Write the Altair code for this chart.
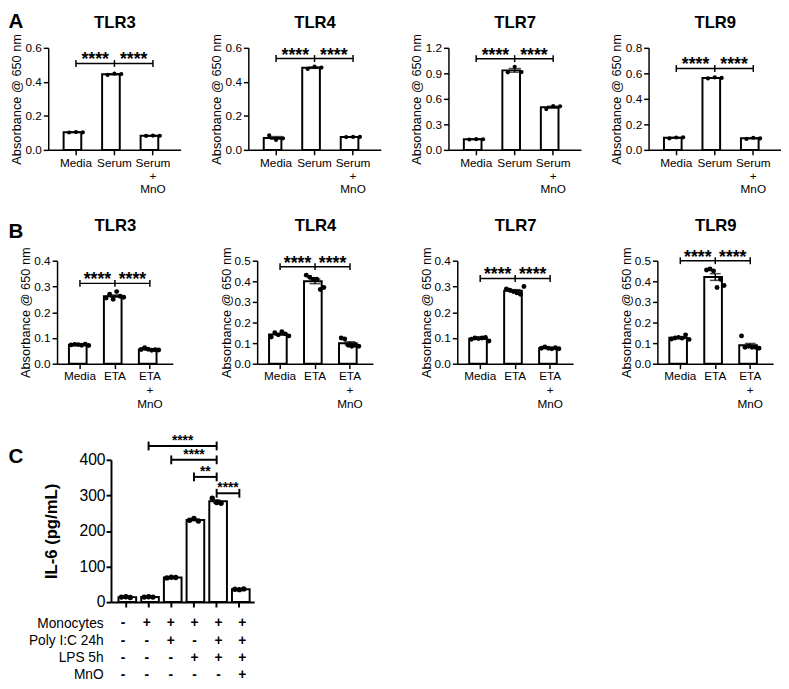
import altair as alt
import pandas as pd

FONT = "Liberation Sans"

# ---------------- Panel A (3 replicates per group) ----------------
A_GROUPS = ["Media", "Serum", "Serum|+|MnO"]
A_TITLES = ["TLR3", "TLR4", "TLR7", "TLR9"]
A_TLR3_MEDIA = [0.102, 0.105, 0.103]
A_TLR3_SERUM = [0.441, 0.448, 0.446]
A_TLR3_MNO = [0.082, 0.084, 0.083]
A_TLR4_MEDIA = [0.085, 0.058, 0.068]
A_TLR4_SERUM = [0.476, 0.490, 0.484]
A_TLR4_MNO = [0.075, 0.076, 0.076]
A_TLR7_MEDIA = [0.122, 0.126, 0.125]
A_TLR7_SERUM = [0.912, 0.978, 0.915]
A_TLR7_MNO = [0.480, 0.515, 0.512]
A_TLR9_MEDIA = [0.090, 0.097, 0.098]
A_TLR9_SERUM = [0.560, 0.568, 0.564]
A_TLR9_MNO = [0.086, 0.095, 0.090]
A_YMAX = [0.6, 0.6, 1.2, 0.8]
A_YSTEP = [0.2, 0.2, 0.3, 0.2]
A_BRACKET = [0.508, 0.537, 1.073, 0.638]

# ---------------- Panel B (6 replicates per group) ----------------
B_GROUPS = ["Media", "ETA", "ETA|+|MnO"]
B_TITLES = ["TLR3", "TLR4", "TLR7", "TLR9"]
B_TLR3_MEDIA = [0.073, 0.075, 0.074, 0.072, 0.076, 0.071]
B_TLR3_ETA = [0.255, 0.270, 0.250, 0.280, 0.262, 0.258]
B_TLR3_MNO = [0.055, 0.062, 0.056, 0.052, 0.054, 0.053]
B_TLR4_MEDIA = [0.130, 0.150, 0.140, 0.155, 0.145, 0.135]
B_TLR4_ETA = [0.430, 0.420, 0.410, 0.410, 0.360, 0.370]
B_TLR4_MNO = [0.125, 0.120, 0.090, 0.085, 0.090, 0.085]
B_TLR7_MEDIA = [0.095, 0.100, 0.098, 0.100, 0.102, 0.088]
B_TLR7_ETA = [0.290, 0.285, 0.280, 0.275, 0.270, 0.300]
B_TLR7_MNO = [0.060, 0.065, 0.060, 0.058, 0.062, 0.058]
B_TLR9_MEDIA = [0.120, 0.125, 0.128, 0.124, 0.140, 0.118]
B_TLR9_ETA = [0.455, 0.460, 0.450, 0.370, 0.410, 0.380]
B_TLR9_MNO = [0.135, 0.080, 0.085, 0.080, 0.080, 0.075]
B_YMAX = [0.4, 0.5, 0.4, 0.5]
B_YSTEP = [0.1, 0.1, 0.1, 0.1]
B_BRACKET = [0.312, 0.471, 0.331, 0.500]

STARS_AB = ["****", "****"]

# ---------------- Panel C ----------------
C_GROUPS = ["None", "Monocytes", "Mono + Poly I:C", "Mono + LPS",
            "Mono + Poly I:C + LPS", "Mono + Poly I:C + LPS + MnO"]
C_IL6 = [[14, 15, 13], [14, 15, 14], [68, 70, 69],
         [230, 235, 228], [292, 280, 278], [36, 35, 37]]
C_ROWS = ["Monocytes", "Poly I:C 24h", "LPS 5h", "MnO"]
C_MONOCYTES = ["-", "+", "+", "+", "+", "+"]
C_POLYIC = ["-", "-", "+", "-", "+", "+"]
C_LPS = ["-", "-", "-", "+", "+", "+"]
C_MNO = ["-", "-", "-", "-", "-", "+"]
C_BR_START = [1, 2, 3, 4]
C_BR_END = [4, 4, 4, 5]
C_BR_Y = [439, 400, 352, 306]
C_BR_LABEL = ["****", "****", "**", "****"]


def tick_values(ymax, step):
    k = int(round(ymax / step))
    return [round(i * step, 6) for i in range(k + 1)]


def panel(groups, reps, ymax, ystep, yfmt, ytitle, lines, ticks, labels, title, s,
          letter=None, sx=0):
    n = len(groups)
    df = pd.DataFrame([{"group": g, "rep": str(r), "value": v}
                       for g, vals in zip(groups, reps) for r, v in enumerate(vals)])
    pi, po, W = s["pi"], s["po"], s["W"]
    xs = alt.Scale(domain=groups, paddingInner=pi, paddingOuter=po, range=[sx, sx + W])
    ys = alt.Scale(domain=[0, ymax], nice=False, zero=True)
    yaxis = alt.Axis(values=tick_values(ymax, ystep), format=yfmt, title=ytitle, grid=False,
                     tickSize=5, labelPadding=s["lpad"], titlePadding=s["tpad"],
                     labelFontSize=s["lfs"], titleFontSize=s["tfs"], titleFontWeight=s["tfw"],
                     domainWidth=s["aw"], tickWidth=s["aw"], offset=-sx)
    xaxis_kw = dict(labelAngle=0, labelExpr="split(datum.label, '|')",
                    labels=s["xlabels"], labelFontSize=12, labelLineHeight=s["xlh"],
                    labelPadding=s["xlpad"], tickSize=5, domainWidth=s["aw"], tickWidth=s["aw"],
                    grid=False)
    if letter:
        xaxis = alt.Axis(title=letter, titleX=s["letter_x"], titleY=s["letter_y"],
                         titleAngle=0, titleAlign="left", titleBaseline="alphabetic",
                         titleFontSize=21, titleFontWeight="bold", **xaxis_kw)
    else:
        xaxis = alt.Axis(title=None, **xaxis_kw)
    X = alt.X("group:N", scale=xs, axis=xaxis, sort=groups)
    Xp = alt.X("group:N", scale=xs, axis=xaxis, sort=groups, bandPosition=0)
    bars = alt.Chart(df).mark_bar(fill="white", stroke="black", strokeWidth=s["bsw"]).encode(
        X, alt.Y("mean(value):Q", scale=ys, axis=yaxis))
    err = alt.Chart(df).mark_errorbar(extent="stderr", color="black", thickness=1.5,
                                      ticks={"size": s["bw"] * 0.5}).encode(
        X, alt.Y("value:Q", scale=ys, axis=yaxis))
    pts = alt.Chart(df).mark_circle(color="black", size=s["psize"], opacity=1).encode(
        Xp, alt.XOffset("rep:N", scale=alt.Scale(paddingOuter=s["xo_po"], paddingInner=1)),
        alt.Y("value:Q", scale=ys, axis=yaxis))
    data_layer = alt.layer(bars, err, pts)

    c0 = po + (1 - pi) / 2
    ax = alt.Scale(domain=[-c0, n - 1 + c0], nice=False, zero=False, range=[sx, sx + W])
    if title:
        top_axis = alt.Axis(orient="top", title=title, labels=False, ticks=False, domain=False,
                            grid=False, titleFontSize=17, titleFontWeight="bold",
                            titleBaseline="alphabetic", titlePadding=s["ttl_pad"],
                            minExtent=0, maxExtent=0)
    else:
        top_axis = None
    df_lines = pd.DataFrame({"x0": [l[0] for l in lines], "x1": [l[1] for l in lines],
                             "y": [l[2] for l in lines]})
    df_ticks = pd.DataFrame({"x": [t[0] for t in ticks], "y": [t[1] for t in ticks]})
    df_lab = pd.DataFrame({"x": [t[0] for t in labels], "y": [t[1] for t in labels],
                           "label": [t[2] for t in labels]})
    rule = alt.Chart(df_lines).mark_rule(color="black", strokeWidth=s["rsw"]).encode(
        alt.X("x0:Q", scale=ax, axis=top_axis), x2="x1:Q",
        y=alt.Y("y:Q", scale=ys, axis=yaxis))
    tks = alt.Chart(df_ticks).mark_point(shape="M0,-1V1", size=s["tk"], color="black",
                                         strokeWidth=s["rsw"], filled=False, opacity=1).encode(
        alt.X("x:Q", scale=ax, axis=top_axis), alt.Y("y:Q", scale=ys, axis=yaxis))
    stars = alt.Chart(df_lab).mark_text(font=FONT, fontSize=s["sfs"], fontWeight="bold",
                                        baseline="alphabetic", dy=s["sdy"], color="black").encode(
        alt.X("x:Q", scale=ax, axis=top_axis), alt.Y("y:Q", scale=ys, axis=yaxis),
        text="label:N")
    ann_layer = alt.layer(rule, tks, stars)
    return alt.layer(data_layer, ann_layer).resolve_scale(x="independent").properties(
        width=W + sx, height=s["H"])


SA = dict(W=135, H=104, pi=0.36, po=0.40, lpad=2, lfs=12, tfs=13, tfw="normal", aw=1.5,
          xlabels=True, xlh=13, xlpad=3, bsw=2, bw=25, psize=18, xo_po=0.79, ttl_pad=21,
          rsw=1.5, tk=49, sfs=18, sdy=2, tpad=2, letter_x=-41, letter_y=-125)
SB = dict(W=118, H=105, pi=0.37, po=0.34, lpad=2, lfs=12, tfs=13, tfw="normal", aw=1.5,
          xlabels=True, xlh=14.5, xlpad=2, bsw=2, bw=22, psize=25, xo_po=0.64, ttl_pad=31,
          rsw=1.5, tk=49, sfs=18, sdy=2, tpad=1, letter_x=-41, letter_y=-129)

A_REPS = [[A_TLR3_MEDIA, A_TLR3_SERUM, A_TLR3_MNO], [A_TLR4_MEDIA, A_TLR4_SERUM, A_TLR4_MNO],
          [A_TLR7_MEDIA, A_TLR7_SERUM, A_TLR7_MNO], [A_TLR9_MEDIA, A_TLR9_SERUM, A_TLR9_MNO]]
B_REPS = [[B_TLR3_MEDIA, B_TLR3_ETA, B_TLR3_MNO], [B_TLR4_MEDIA, B_TLR4_ETA, B_TLR4_MNO],
          [B_TLR7_MEDIA, B_TLR7_ETA, B_TLR7_MNO], [B_TLR9_MEDIA, B_TLR9_ETA, B_TLR9_MNO]]


def ab_row(groups, reps_all, ymaxs, ysteps, brackets, titles, s, letter, sx0):
    charts = []
    for i in range(4):
        yb = brackets[i]
        lines = [(0, 2, yb)]
        ticks = [(0, yb), (1, yb), (2, yb)]
        labels = [(0.5, yb, STARS_AB[0]), (1.5, yb, STARS_AB[1])]
        charts.append(panel(groups, reps_all[i], ymaxs[i], ysteps[i], ".1f",
                            "Absorbance @ 650 nm", lines, ticks, labels, titles[i], s,
                            letter=letter if i == 0 else None, sx=sx0 if i == 0 else 0))
    return charts


rowA = alt.hconcat(*ab_row(A_GROUPS, A_REPS, A_YMAX, A_YSTEP, A_BRACKET, A_TITLES, SA, "A", 0),
                   spacing=30).resolve_scale(xOffset="independent")
rowB = alt.hconcat(*ab_row(B_GROUPS, B_REPS, B_YMAX, B_YSTEP, B_BRACKET, B_TITLES, SB, "B", 9),
                   spacing=48).resolve_scale(xOffset="independent")

# Panel C main plot
C_SHIFT = 64
SC = dict(W=146, H=145, pi=0.35, po=0.33, lpad=1, lfs=16, tfs=17, tfw="bold", aw=2,
          xlabels=False, xlh=12, xlpad=2, bsw=2, bw=15, psize=30, xo_po=0.67, ttl_pad=0,
          rsw=2, tk=81, sfs=14, sdy=-1, tpad=19, letter_x=-41, letter_y=-142)
c_lines = [(a, b, y) for a, b, y in zip(C_BR_START, C_BR_END, C_BR_Y)]
c_ticks = [(a, y) for a, y in zip(C_BR_START, C_BR_Y)] + [(b, y) for b, y in zip(C_BR_END, C_BR_Y)]
c_labels = [((a + b) / 2, y, lab) for a, b, y, lab in zip(C_BR_START, C_BR_END, C_BR_Y, C_BR_LABEL)]
mainC = panel(C_GROUPS, C_IL6, 400, 100, "d", "IL-6 (pg/mL)", c_lines, c_ticks, c_labels,
              None, SC, letter="C", sx=C_SHIFT)

# Panel C treatment table
sign_rows = [C_MONOCYTES, C_POLYIC, C_LPS, C_MNO]
df_tab = pd.DataFrame([{"group": g, "row": r, "sign": sgn}
                       for r, signs in zip(C_ROWS, sign_rows) for g, sgn in zip(C_GROUPS, signs)])
tableC = alt.Chart(df_tab).mark_text(font=FONT, fontSize=14, fontWeight="bold", color="black").encode(
    x=alt.X("group:N", sort=C_GROUPS, axis=None,
            scale=alt.Scale(domain=C_GROUPS, paddingInner=SC["pi"], paddingOuter=SC["po"],
                            range=[C_SHIFT, C_SHIFT + SC["W"]])),
    y=alt.Y("row:N", sort=C_ROWS, scale=alt.Scale(domain=C_ROWS, paddingInner=0, paddingOuter=0),
            axis=alt.Axis(title=None, domain=False, ticks=False, tickSize=0, labelPadding=8,
                          labelFontSize=14, grid=False, offset=-C_SHIFT)),
    text="sign:N",
).properties(width=SC["W"] + C_SHIFT, height=70)

rowC = alt.vconcat(mainC, tableC, spacing=5).resolve_scale(xOffset="independent")

rowsAB = alt.vconcat(rowA, rowB, spacing=23).resolve_scale(xOffset="independent")
chart = alt.vconcat(rowsAB, rowC, spacing=24).resolve_scale(
    xOffset="independent"
).properties(
    padding={"top": -4, "left": 0, "right": 0, "bottom": 0}
).configure_view(strokeWidth=0).configure_axis(
    labelColor="black", titleColor="black", domainColor="black", tickColor="black",
    labelFont=FONT, titleFont=FONT
).configure_title(color="black", font=FONT)

chart.save("out.html", embed_options={"renderer": "svg", "actions": False})
